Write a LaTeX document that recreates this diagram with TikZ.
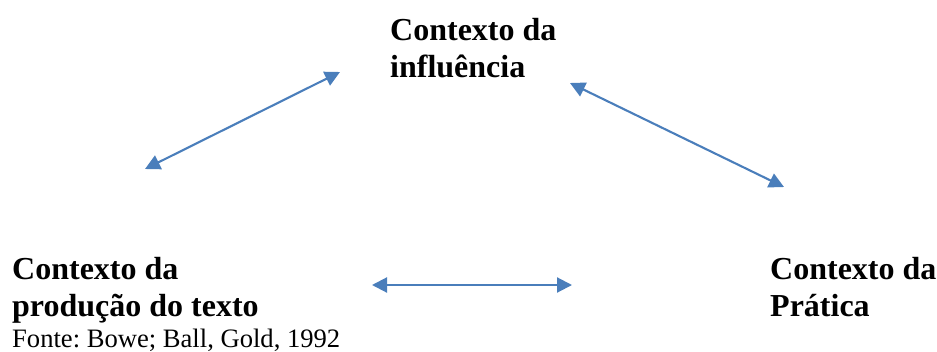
\documentclass[tikz,border=0pt]{standalone}
\usepackage{fontspec}
\setmainfont{Liberation Serif}
\usetikzlibrary{arrows.meta}
\definecolor{arrowblue}{HTML}{4A7EBB}
\frenchspacing
\begin{document}
\begin{tikzpicture}[x=1pt,y=-1pt,
  title/.style={inner sep=0pt,anchor=base west,align=left,font={\bfseries\fontsize{32}{37}\selectfont}},
  source/.style={inner sep=0pt,anchor=base west,font={\fontsize{26.6}{30}\selectfont}},
  link/.style={draw=arrowblue,line width=2.1pt,{Triangle[length=15pt,width=15pt]}-{Triangle[length=15pt,width=15pt]}}]
\useasboundingbox (0,0) rectangle (937,351);
\node[title] (infl) at (390,77) {Contexto da\\influência};
\node[title] (prod) at (12,316) {Contexto da\\produção do texto};
\node[title] (prat) at (770,316) {Contexto da\\Prática};
\node[source] (fonte) at (12,347) {Fonte: Bowe; Ball, Gold, 1992};
\coordinate (a1) at (145,169);
\coordinate (a2) at (340,72);
\coordinate (b1) at (570,83);
\coordinate (b2) at (784,187);
\coordinate (c1) at (372,285);
\coordinate (c2) at (572,285);
\draw[link] (a1) -- (a2);
\draw[link] (b1) -- (b2);
\draw[link] (c1) -- (c2);
\end{tikzpicture}
\end{document}
